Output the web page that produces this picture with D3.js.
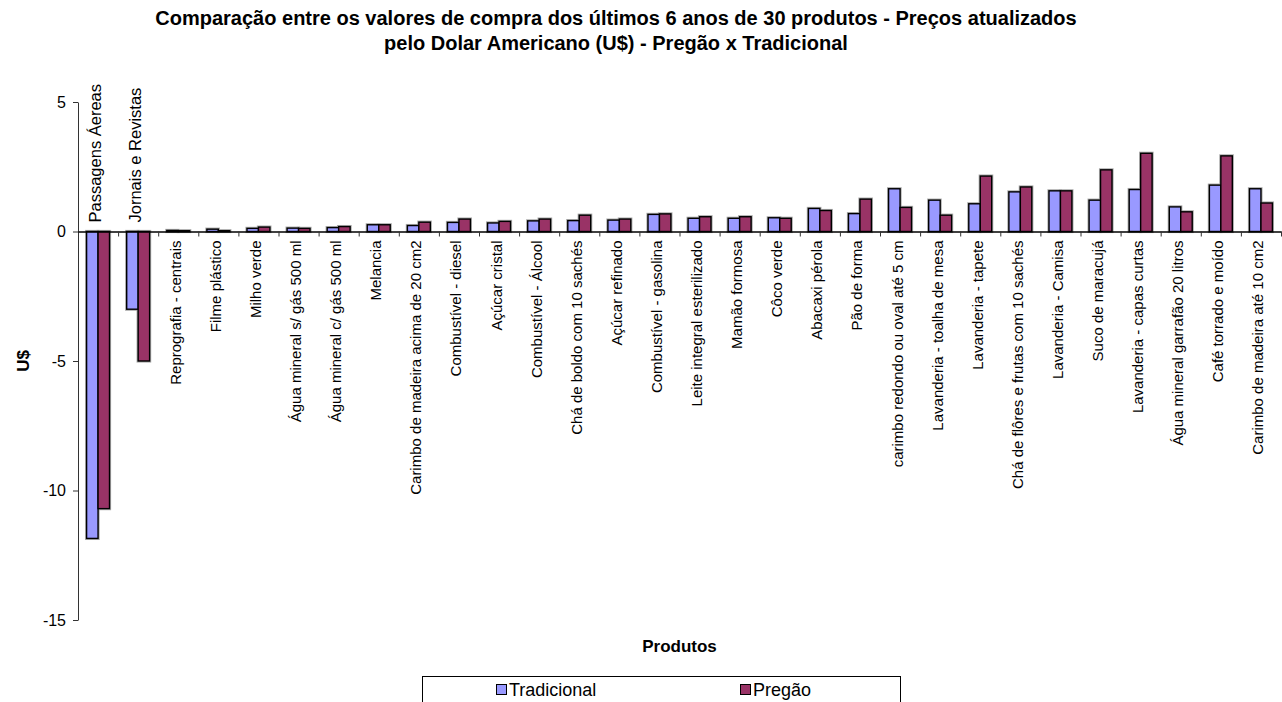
<!DOCTYPE html>
<html>
<head>
<meta charset="utf-8">
<script src="https://cdn.jsdelivr.net/npm/d3@7"></script>
<style>
  body { margin: 0; background: #fff; }
  text { font-family: "Liberation Sans", Arial, sans-serif; fill: #000; }
</style>
</head>
<body>
<svg id="chart" width="1282" height="702"></svg>
<script>
// Products, ordered as in the purchase comparison
const produtos = [
  "Passagens Áereas",
  "Jornais e Revistas",
  "Reprografia - centrais",
  "Filme plástico",
  "Milho verde",
  "Água mineral s/ gás 500 ml",
  "Água mineral c/ gás 500 ml",
  "Melancia",
  "Carimbo de madeira acima de 20 cm2",
  "Combustível - diesel",
  "Açúcar cristal",
  "Combustível - Álcool",
  "Chá de boldo com 10 sachés",
  "Açúcar refinado",
  "Combustível - gasolina",
  "Leite integral esterilizado",
  "Mamão formosa",
  "Côco verde",
  "Abacaxi pérola",
  "Pão de forma",
  "carimbo redondo ou oval até 5 cm",
  "Lavanderia - toalha de mesa",
  "Lavanderia - tapete",
  "Chá de flôres e frutas com 10 sachés",
  "Lavanderia - Camisa",
  "Suco de maracujá",
  "Lavanderia - capas curtas",
  "Água mineral garrafão 20 litros",
  "Café torrado e moído",
  "Carimbo de madeira até 10 cm2"
];

// Values in U$ per product
const tradicional = [
  -11.85, -3.0, 0.04, 0.09, 0.12, 0.13, 0.15, 0.26, 0.23, 0.35,
  0.33, 0.41, 0.42, 0.44, 0.66, 0.51, 0.51, 0.53, 0.89, 0.69,
  1.65, 1.21, 1.07, 1.53, 1.57, 1.21, 1.62, 0.95, 1.79, 1.65
];
const pregao = [
  -10.7, -5.0, 0.03, 0.03, 0.17, 0.12, 0.19, 0.26, 0.36, 0.48,
  0.39, 0.48, 0.63, 0.48, 0.68, 0.57, 0.57, 0.51, 0.81, 1.25,
  0.93, 0.63, 2.14, 1.72, 1.57, 2.38, 3.02, 0.76, 2.92, 1.1
];

const seriesNames = ["Tradicional", "Pregão"];
const seriesColors = ["#9999FF", "#993366"];
const yTicks = [5, 0, -5, -10, -15];
const yDomain = [-15, 5];

const titleLines = [
  "Comparação entre os valores de compra dos últimos 6 anos de 30 produtos - Preços atualizados",
  "pelo Dolar Americano (U$) - Pregão x Tradicional"
];
const xTitle = "Produtos";
const yTitle = "U$";

const svg = d3.select("#chart");
const plot = { left: 78, right: 1281, top: 102, bottom: 620 };

const x = d3.scaleBand().domain(produtos).range([plot.left, plot.right]).padding(0);
const bw = x.bandwidth();
// Excel-style 150% gap: each bar is band/3.5 wide, group centred
const x1 = d3.scaleBand().domain(seriesNames)
  .range([bw * 0.75 / 3.5, bw * 2.75 / 3.5]).padding(0);
const y = d3.scaleLinear().domain(yDomain).range([plot.bottom, plot.top]);
const xIdx = d3.scaleLinear().domain([0, produtos.length]).range([plot.left, plot.right]);

// Title
svg.append("g").selectAll("text").data(titleLines).join("text")
  .attr("x", 616)
  .attr("y", (d, i) => 25 + i * 24.5)
  .attr("text-anchor", "middle")
  .style("font-size", "20px")
  .style("font-weight", "bold")
  .text(d => d);

// Bars
const rows = produtos.map((p, i) => ({ p, vals: [tradicional[i], pregao[i]] }));
const groups = svg.append("g").selectAll("g").data(rows).join("g")
  .attr("transform", d => `translate(${x(d.p)},0)`);

const barData = d => d.vals.map((v, k) => ({ v, k }));
// soft halo around each bar
groups.selectAll("rect.halo").data(barData).join("rect")
  .attr("class", "halo")
  .attr("x", d => x1(seriesNames[d.k]))
  .attr("width", x1.bandwidth())
  .attr("y", d => Math.min(y(d.v), y(0)))
  .attr("height", d => Math.abs(y(d.v) - y(0)))
  .attr("fill", "none")
  .attr("stroke", "#aaa")
  .attr("stroke-width", 3.2);
groups.selectAll("rect.bar").data(barData).join("rect")
  .attr("class", "bar")
  .attr("x", d => x1(seriesNames[d.k]))
  .attr("width", x1.bandwidth())
  .attr("y", d => Math.min(y(d.v), y(0)))
  .attr("height", d => Math.abs(y(d.v) - y(0)))
  .attr("fill", d => seriesColors[d.k])
  .attr("stroke", "#000")
  .attr("stroke-width", 1.4);

// Y axis (plain hyphen for negatives)
const yAxis = svg.append("g")
  .attr("transform", `translate(${plot.left},0)`)
  .call(d3.axisLeft(y).tickValues(yTicks).tickSize(5).tickSizeOuter(0).tickPadding(7)
    .tickFormat(d => String(d)));
yAxis.select(".domain").attr("stroke", "#333");
yAxis.selectAll(".tick line").attr("stroke", "#333");
yAxis.selectAll("text").style("font-size", "16px").attr("fill", "#000");

// X axis along zero, tick marks at category boundaries
const xAxis = svg.append("g")
  .attr("transform", `translate(0,${y(0)})`)
  .call(d3.axisBottom(xIdx).tickValues(d3.range(1, produtos.length + 1))
    .tickSize(5).tickSizeOuter(0).tickFormat(""));
xAxis.select(".domain").attr("stroke", "#000").attr("stroke-width", 1.3);
xAxis.selectAll(".tick line").attr("stroke", "#333");

// Category labels, rotated; above the axis when the bars point down
const isNeg = d => d3.max(d.vals) < 0;
svg.append("g").selectAll("text").data(rows).join("text")
  .attr("transform", d =>
    `translate(${x(d.p) + bw / 2 - 3},${y(0) + (isNeg(d) ? -9 : 9)}) rotate(-90)`)
  .attr("text-anchor", d => isNeg(d) ? "start" : "end")
  .attr("dominant-baseline", "central")
  .style("font-size", d => isNeg(d) ? "16.5px" : "15px")
  .text(d => d.p);

// Axis titles
svg.append("text")
  .attr("x", (plot.left + plot.right) / 2)
  .attr("y", 652)
  .attr("text-anchor", "middle")
  .style("font-size", "17px")
  .style("font-weight", "bold")
  .text(xTitle);
svg.append("text")
  .attr("transform", `translate(29,${(plot.top + plot.bottom) / 2}) rotate(-90)`)
  .attr("text-anchor", "middle")
  .style("font-size", "17px")
  .style("font-weight", "bold")
  .text(yTitle);

// Legend
const legend = svg.append("g");
legend.append("rect")
  .attr("x", 422.5).attr("y", 676.5)
  .attr("width", 478).attr("height", 40)
  .attr("fill", "#fff").attr("stroke", "#000");
const legX = [496, 740];
const items = legend.selectAll("g").data(seriesNames).join("g")
  .attr("transform", (d, i) => `translate(${legX[i]},684)`);
items.append("rect")
  .attr("x", 0.5).attr("y", 0.5).attr("width", 10).attr("height", 10)
  .attr("fill", (d, i) => seriesColors[i]).attr("stroke", "#000");
items.append("text")
  .attr("x", 13).attr("y", 11.5)
  .style("font-size", "18px")
  .text(d => d);
</script>
</body>
</html>
